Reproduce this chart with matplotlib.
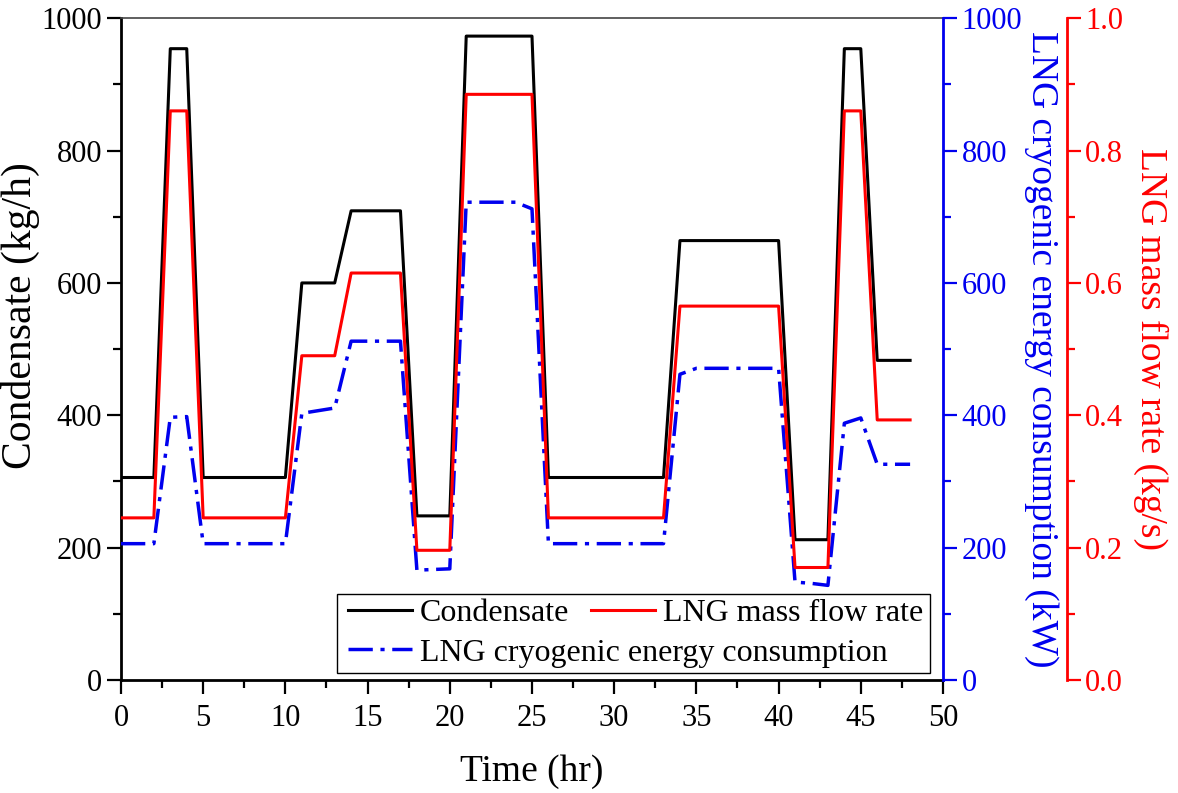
import matplotlib
matplotlib.use("Agg")
import matplotlib.pyplot as plt
from matplotlib.ticker import MultipleLocator, FormatStrFormatter
from matplotlib.lines import Line2D
from matplotlib.patches import Rectangle

plt.rcParams["font.family"] = ["Liberation Serif", "DejaVu Serif"]

# ---------------- data ----------------
hours = [0, 1, 2, 3, 4, 5, 6, 7, 8, 9, 10, 11, 12, 13, 14, 15, 16, 17, 18, 19, 20, 21, 22, 23, 24,
         25, 26, 27, 28, 29, 30, 31, 32, 33, 34, 35, 36, 37, 38, 39, 40, 41, 42, 43, 44, 45, 46, 47, 48]

condensate = [306, 306, 306, 954, 954, 306, 306, 306, 306, 306, 306, 600, 600, 600, 709, 709, 709,
              709, 248, 248, 248, 973, 973, 973, 973, 973, 306, 306, 306, 306, 306, 306, 306, 306,
              664, 664, 664, 664, 664, 664, 664, 212, 212, 212, 954, 954, 483, 483, 483]

lng_flow = [0.245, 0.245, 0.245, 0.86, 0.86, 0.245, 0.245, 0.245, 0.245, 0.245, 0.245, 0.49, 0.49,
            0.49, 0.615, 0.615, 0.615, 0.615, 0.196, 0.196, 0.196, 0.885, 0.885, 0.885, 0.885,
            0.885, 0.245, 0.245, 0.245, 0.245, 0.245, 0.245, 0.245, 0.245, 0.565, 0.565, 0.565,
            0.565, 0.565, 0.565, 0.565, 0.17, 0.17, 0.17, 0.86, 0.86, 0.393, 0.393, 0.393]

cryo_energy = [206, 206, 206, 397, 398, 206, 206, 206, 206, 206, 206, 403, 407, 411, 512, 512, 512,
               512, 166, 167, 168, 722, 722, 722, 722, 712, 206, 206, 206, 206, 206, 206, 206, 206,
               462, 471, 471, 471, 471, 471, 471, 148, 146, 143, 388, 396, 326, 326, 326]

BLUE = "#0000ee"
RED = "#ff0000"
TICK_FS = 22
LABEL_FS = 27
DASHDOT = (7, 2.2, 1.2, 2.2)

# ---------------- figure ----------------
fig = plt.figure(figsize=(11.78, 7.93), dpi=100)
ax = fig.add_axes([0.1027, 0.1425, 0.6978, 0.8345])
ax_b = ax.twinx()
ax_r = ax.twinx()

l_cond, = ax.plot(hours, condensate, color="black", lw=2.2, zorder=3)
l_flow, = ax_r.plot(hours, lng_flow, color=RED, lw=2.2)
l_cryo, = ax_b.plot(hours, cryo_energy, color=BLUE, lw=2.5, dashes=DASHDOT)

ax.set_xlim(0, 50)
ax.set_ylim(0, 1000)
ax_b.set_ylim(0, 1000)
ax_r.set_ylim(0, 1.0)

# left / bottom axis
ax.xaxis.set_major_locator(MultipleLocator(5))
ax.xaxis.set_minor_locator(MultipleLocator(2.5))
ax.yaxis.set_major_locator(MultipleLocator(200))
ax.yaxis.set_minor_locator(MultipleLocator(100))
ax.tick_params(which="both", direction="out", width=1.6, labelsize=TICK_FS, top=False, right=False)
ax.tick_params(which="major", length=10)
ax.tick_params(which="minor", length=6)
ax.tick_params(axis="x", pad=7)
ax.spines["left"].set_linewidth(2)
ax.spines["bottom"].set_linewidth(2)
ax.spines["top"].set_linewidth(1.2)
ax.spines["top"].set_color("#444444")
ax.spines["right"].set_visible(False)
ax.set_xlabel("Time (hr)", fontsize=LABEL_FS, labelpad=16)
ax.set_ylabel("Condensate (kg/h)", fontsize=30)
ax.yaxis.set_label_coords(-0.099, 0.55)

# blue axis (on the frame edge)
ax_b.yaxis.set_major_locator(MultipleLocator(200))
ax_b.yaxis.set_minor_locator(MultipleLocator(100))
ax_b.spines["right"].set_color(BLUE)
ax_b.spines["right"].set_linewidth(2)
for s in ("left", "top", "bottom"):
    ax_b.spines[s].set_visible(False)
ax_b.tick_params(which="both", direction="out", colors=BLUE, width=1.6, labelsize=TICK_FS)
ax_b.tick_params(which="major", length=10)
ax_b.tick_params(which="minor", length=6)
ax_b.set_ylabel("LNG cryogenic energy consumption (kW)", color=BLUE, fontsize=LABEL_FS,
                rotation=270, labelpad=26)

# red axis (offset outward)
ax_r.spines["right"].set_position(("outward", 89))
ax_r.yaxis.set_major_locator(MultipleLocator(0.2))
ax_r.yaxis.set_minor_locator(MultipleLocator(0.1))
ax_r.yaxis.set_major_formatter(FormatStrFormatter("%.1f"))
ax_r.spines["right"].set_color(RED)
ax_r.spines["right"].set_linewidth(2)
for s in ("left", "top", "bottom"):
    ax_r.spines[s].set_visible(False)
ax_r.tick_params(which="both", direction="out", colors=RED, width=1.6, labelsize=TICK_FS)
ax_r.tick_params(which="major", length=10)
ax_r.tick_params(which="minor", length=6)
ax_r.set_ylabel("LNG mass flow rate (kg/s)", color=RED, fontsize=LABEL_FS,
                rotation=270, labelpad=32)

# legend: two rows, drawn as two frameless legends inside one box
leg_kw = dict(frameon=False, fontsize=23, handlelength=2.0, handletextpad=0.25,
              columnspacing=0.7, borderpad=0.1, borderaxespad=0)
leg1 = ax_r.legend([l_cond, l_flow], ["Condensate", "LNG mass flow rate"], ncol=2,
                   loc="upper left", bbox_to_anchor=(0.272, 0.128), **leg_kw)
ax_r.add_artist(leg1)
blue_handle = Line2D([], [], color=BLUE, lw=2.5, dashes=DASHDOT)
ax_r.legend([blue_handle], ["LNG cryogenic energy consumption"],
            loc="upper left", bbox_to_anchor=(0.272, 0.068), **leg_kw)
ax_r.add_patch(Rectangle((0.263, 0.0106), 0.721, 0.120, transform=ax_r.transAxes,
                         fill=False, edgecolor="black", lw=1.0, zorder=5))

fig.savefig("out.png", dpi=100)
